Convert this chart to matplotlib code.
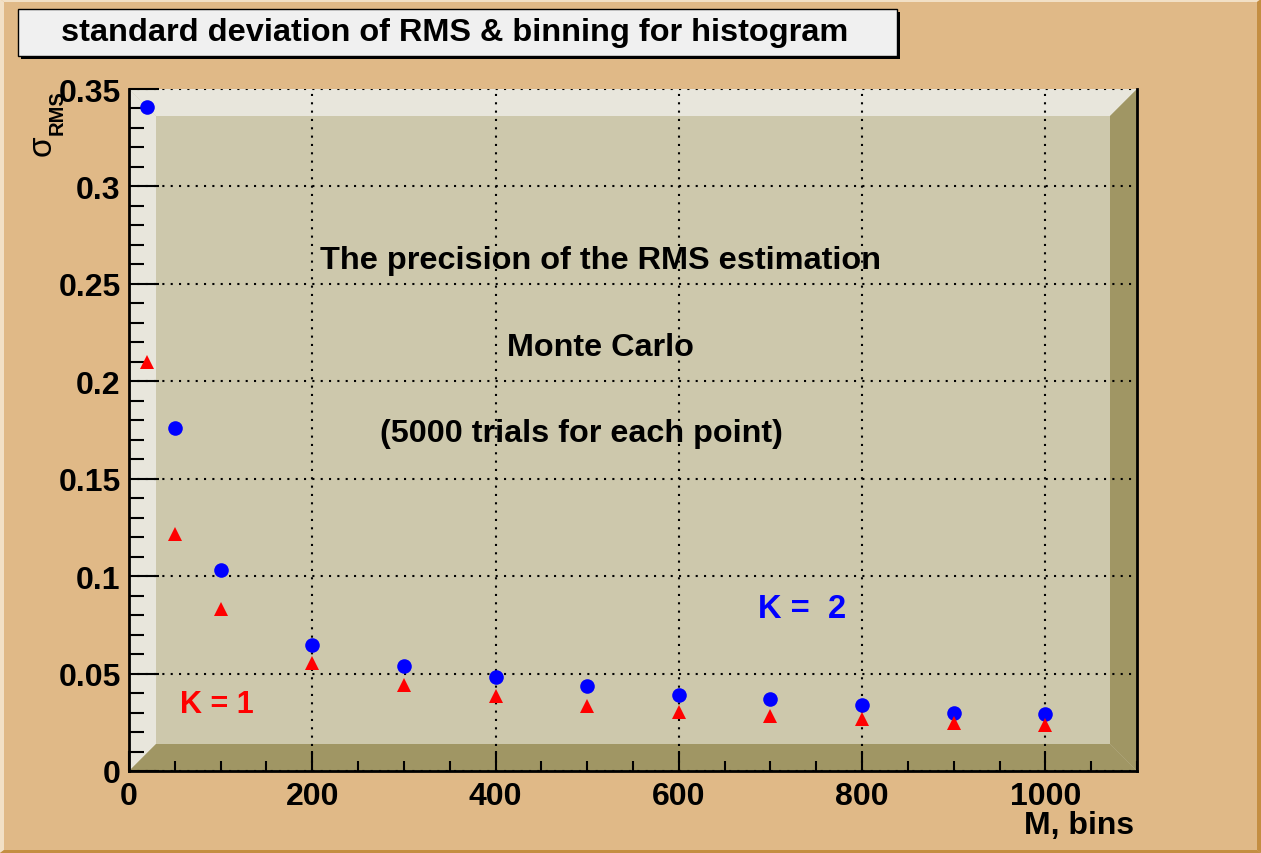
import matplotlib
matplotlib.use("Agg")
import matplotlib.pyplot as plt
from matplotlib.patches import Polygon, Rectangle

# Data
bins = [20, 50, 100, 200, 300, 400, 500, 600, 700, 800, 900, 1000]
sigma_k2 = [0.341, 0.176, 0.103, 0.0645, 0.0538, 0.0483, 0.0435, 0.0392, 0.0368, 0.0338, 0.0299, 0.0293]
sigma_k1 = [0.210, 0.1217, 0.0832, 0.0554, 0.0441, 0.0385, 0.0334, 0.0303, 0.0282, 0.0267, 0.0246, 0.0236]

xticks_major = [0, 200, 400, 600, 800, 1000]
xtick_labels = ["0", "200", "400", "600", "800", "1000"]
yticks_major = [0, 0.05, 0.1, 0.15, 0.2, 0.25, 0.3, 0.35]
ytick_labels = ["0", "0.05", "0.1", "0.15", "0.2", "0.25", "0.3", "0.35"]

# Colours
CANVAS = "#e0b987"
FACE = "#cdc8ac"
LIGHT = "#e8e6dc"
DARK = "#a09664"

plt.rcParams["font.family"] = ["Liberation Sans", "DejaVu Sans"]
plt.rcParams["font.weight"] = "bold"

W, H = 1261, 854
fig = plt.figure(figsize=(W / 100, H / 100), dpi=100)
fig.patch.set_facecolor(CANVAS)

# Canvas bevel border
def fig_poly(pts, color):
    fig.add_artist(Polygon([(x / W, 1 - y / H) for x, y in pts], closed=True,
                           transform=fig.transFigure, facecolor=color, edgecolor="none"))

fig_poly([(0, 0), (W, 0), (W - 4, 3), (4, 3)], "#f2e0c6")
fig_poly([(0, 0), (4, 3), (4, H - 3), (0, H)], "#f2e0c6")
fig_poly([(W, 0), (W, H), (W - 4, H - 3), (W - 4, 3)], "#c48e42")
fig_poly([(0, H), (W, H), (W - 4, H - 3), (4, H - 3)], "#c48e42")

# Axes (frame)
ax = fig.add_axes([129 / W, 82 / H, (1137 - 129) / W, 682 / H])
ax.set_facecolor(FACE)
ax.set_xlim(0, 1100)
ax.set_ylim(0, 0.35)

# 3D bevel of the frame
bx, by = 27 / 1008, 27 / 682
walls = [
    ([(0, 0), (0, 1), (bx, 1 - by), (bx, by)], LIGHT),
    ([(0, 1), (1, 1), (1 - bx, 1 - by), (bx, 1 - by)], LIGHT),
    ([(1, 1), (1, 0), (1 - bx, by), (1 - bx, 1 - by)], DARK),
    ([(0, 0), (1, 0), (1 - bx, by), (bx, by)], DARK),
]
for pts, c in walls:
    ax.add_patch(Polygon(pts, closed=True, transform=ax.transAxes,
                         facecolor=c, edgecolor="none", zorder=0.5))

# Ticks
ax.set_xticks(xticks_major)
ax.set_xticklabels(xtick_labels)
ax.set_xticks(range(0, 1101, 50), minor=True)
ax.set_yticks(yticks_major)
ax.set_yticklabels(ytick_labels)
ax.set_yticks([i * 0.01 for i in range(36)], minor=True)
ax.tick_params(axis="both", which="both", direction="in", width=1.5, color="black",
               top=False, right=False, labelsize=23)
ax.tick_params(axis="y", which="major", length=21.6, pad=6)
ax.tick_params(axis="y", which="minor", length=10.8)
ax.tick_params(axis="x", which="major", length=14.4, pad=7)
ax.tick_params(axis="x", which="minor", length=7.2)
for lab in ax.get_xticklabels() + ax.get_yticklabels():
    lab.set_fontweight("bold")

ax.grid(True, which="major", color="black", linestyle=(0, (1, 3)), linewidth=1.5, zorder=1)
ax.set_axisbelow(True)

for side in ["left", "bottom", "right"]:
    ax.spines[side].set_linewidth(2)
    ax.spines[side].set_color("black")
ax.spines["top"].set_visible(False)

# Points
ax.plot(bins, sigma_k2, linestyle="none", marker="o", markersize=10.5,
        color="#0000ff", markeredgewidth=0, zorder=3, clip_on=False)
ax.plot(bins, sigma_k1, linestyle="none", marker="^", markersize=10.5,
        color="#ff0000", markeredgewidth=0, zorder=3, clip_on=False)

# Annotations
ax.text(514, 0.2625, "The precision of the RMS estimation", ha="center", va="center",
        fontsize=23.4, fontweight="bold")
ax.text(514, 0.2175, "Monte Carlo", ha="center", va="center", fontsize=23.3, fontweight="bold")
ax.text(494, 0.1735, "(5000 trials for each point)", ha="center", va="center", fontsize=23.3, fontweight="bold")
ax.text(734, 0.0835, "K =  2", ha="center", va="center", fontsize=23.5, fontweight="bold", color="#0000ff")
ax.text(96, 0.0345, "K = 1", ha="center", va="center", fontsize=22, fontweight="bold", color="#ff0000")

# Axis titles
fig.text(1134 / W, 1 - 826 / H, "M, bins", ha="right", va="center", fontsize=23, fontweight="bold")
fig.text(42 / W, 1 - 146 / H, "σ", ha="center", va="center", rotation=90,
         fontsize=24, fontweight="normal")
fig.text(57 / W, 1 - 90 / H, "RMS", ha="center", va="top", rotation=90,
         fontsize=14.5, fontweight="bold")

# Title box with shadow
fig.add_artist(Rectangle((21 / W, 1 - 60 / H), 879 / W, 47 / H, transform=fig.transFigure,
                         facecolor="black", edgecolor="none"))
fig.add_artist(Rectangle((18 / W, 1 - 57 / H), 879 / W, 47 / H, transform=fig.transFigure,
                         facecolor="#f0f0f0", edgecolor="black", linewidth=1))
fig.text(455 / W, 1 - 33 / H, "standard deviation of RMS & binning for histogram",
         ha="center", va="center", fontsize=23.4, fontweight="bold")

fig.savefig("out.png", dpi=100, facecolor=fig.get_facecolor())
